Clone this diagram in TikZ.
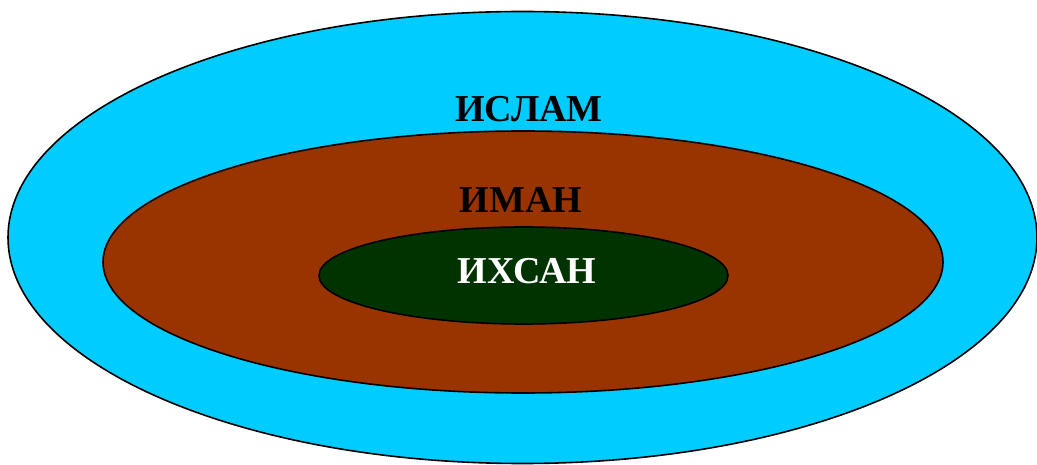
\documentclass[tikz,border=0pt]{standalone}
\usepackage{fontspec}
\setmainfont{Liberation Serif}
\usepackage{xcolor}
\definecolor{islamblue}{HTML}{00CCFF}
\definecolor{imanbrown}{HTML}{993300}
\definecolor{ihsangreen}{HTML}{003300}
\tikzset{ring/.style={draw=black,line width=1.6pt},
         word/.style={font=\bfseries\fontsize{38}{44}\selectfont,inner sep=0pt}}

\begin{document}
\begin{tikzpicture}[x=1pt,y=-1pt]
        \useasboundingbox (0,0) rectangle (1037,465);
        \filldraw[ring,fill=islamblue] (522.5,237.5) ellipse (514.5 and 226);
        \filldraw[ring,fill=imanbrown] (523,262) ellipse (420 and 131);
        \filldraw[ring,fill=ihsangreen] (523.5,275.5) ellipse (204.5 and 48.5);
        \node[word] (islam) at (529,109) {ИСЛАМ};
        \node[word] (iman) at (521,200) {ИМАН};
        \node[word,text=white] (ihsan) at (527,271) {ИХСАН};
    \end{tikzpicture}
\end{document}
